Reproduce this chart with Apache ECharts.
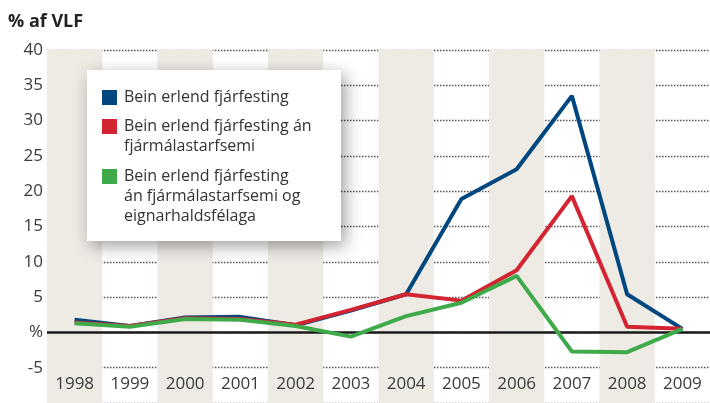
<!DOCTYPE html>
<html>
<head>
<meta charset="utf-8">
<script src="https://cdn.jsdelivr.net/npm/echarts@6/dist/echarts.min.js"></script>
<style>
html,body{margin:0;padding:0;background:#fff;}
#c{width:710px;height:403px;}
</style>
</head>
<body>
<div id="c"></div>
<script>
var years = ['1998','1999','2000','2001','2002','2003','2004','2005','2006','2007','2008','2009'];
var seriesNames = ['Bein erlend fjárfesting', 'Bein erlend fjárfesting án\nfjármálastarfsemi', 'Bein erlend fjárfesting\nán fjármálastarfsemi og\neignarhaldsfélaga'];
var totalFdi = [1.8, 0.9, 2.1, 2.2, 1.0, 3.1, 5.4, 18.9, 23.1, 33.5, 5.4, 0.5];
var exFinance = [1.4, 0.9, 2.0, 1.9, 1.1, 3.2, 5.4, 4.5, 8.8, 19.3, 0.8, 0.5];
var exFinanceHolding = [1.3, 0.8, 1.9, 1.8, 0.9, -0.6, 2.3, 4.2, 8.0, -2.7, -2.8, 0.5];
var seriesColors = ['#00467f', '#d42331', '#3eaa4a'];
var yTicks = { min: -10, max: 40, step: 5, zeroLabel: '%' };
var titleText = '% af VLF';

var chart = echarts.init(document.getElementById('c'));
var fontFam = '"Open Sans", sans-serif';

var legendTops = [87.5, 116.5, 166.5];
var legendGraphics = [{
  type: 'rect',
  shape: { x: 87, y: 70, width: 254, height: 171 },
  style: { fill: '#fff', shadowBlur: 16, shadowColor: 'rgba(0,0,0,0.38)', shadowOffsetX: 4, shadowOffsetY: 5 },
  z: 100
}];
seriesNames.forEach(function (n, i) {
  legendGraphics.push({
    type: 'rect',
    shape: { x: 102, y: legendTops[i] + 2.5, width: 15, height: 15 },
    style: { fill: seriesColors[i] },
    z: 101
  });
  legendGraphics.push({
    type: 'text',
    x: 124, y: legendTops[i],
    style: { text: n, fill: '#333', font: '16px ' + fontFam, lineHeight: 20, verticalAlign: 'top' },
    z: 101
  });
});

var data = [totalFdi, exFinance, exFinanceHolding];
var series = data.map(function (d, i) {
  var s = {
    name: seriesNames[i],
    type: 'line',
    data: d,
    symbol: 'none',
    lineStyle: { color: seriesColors[i], width: 4 },
    itemStyle: { color: seriesColors[i] },
    z: 3 + i
  };
  if (i === 2) {
    s.markLine = {
      silent: true,
      symbol: 'none',
      label: { show: false },
      lineStyle: { color: '#1a1a1a', width: 2.5, type: 'solid' },
      data: [{ yAxis: 0 }],
      z: 2
    };
  }
  return s;
});

chart.setOption({
  animation: false,
  title: {
    text: titleText, left: 3, top: 8,
    textStyle: { fontFamily: fontFam, fontWeight: 'bold', fontSize: 18, color: '#222' }
  },
  grid: { left: 47, right: -1, top: 50, bottom: 0, containLabel: false },
  xAxis: {
    type: 'category',
    data: years,
    boundaryGap: true,
    axisLine: { show: false },
    axisTick: { show: false },
    axisLabel: { inside: true, margin: 10, fontFamily: fontFam, fontSize: 17, color: '#3a3a3a' },
    splitArea: { show: true, areaStyle: { color: ['#eeeae4', 'rgba(255,255,255,0)'] } },
    splitLine: { show: false }
  },
  yAxis: {
    type: 'value',
    min: yTicks.min, max: yTicks.max, interval: yTicks.step,
    axisLine: { show: false },
    axisTick: { show: false },
    axisLabel: {
      margin: 4, fontFamily: fontFam, fontSize: 17, color: '#3a3a3a',
      formatter: function (v) { return v === 0 ? yTicks.zeroLabel : (v === yTicks.min ? '' : String(v)); }
    },
    splitLine: { show: true, lineStyle: { color: '#555', width: 1.3, type: [1.5, 1.5] } }
  },
  graphic: legendGraphics,
  series: series
});
</script>
</body>
</html>
